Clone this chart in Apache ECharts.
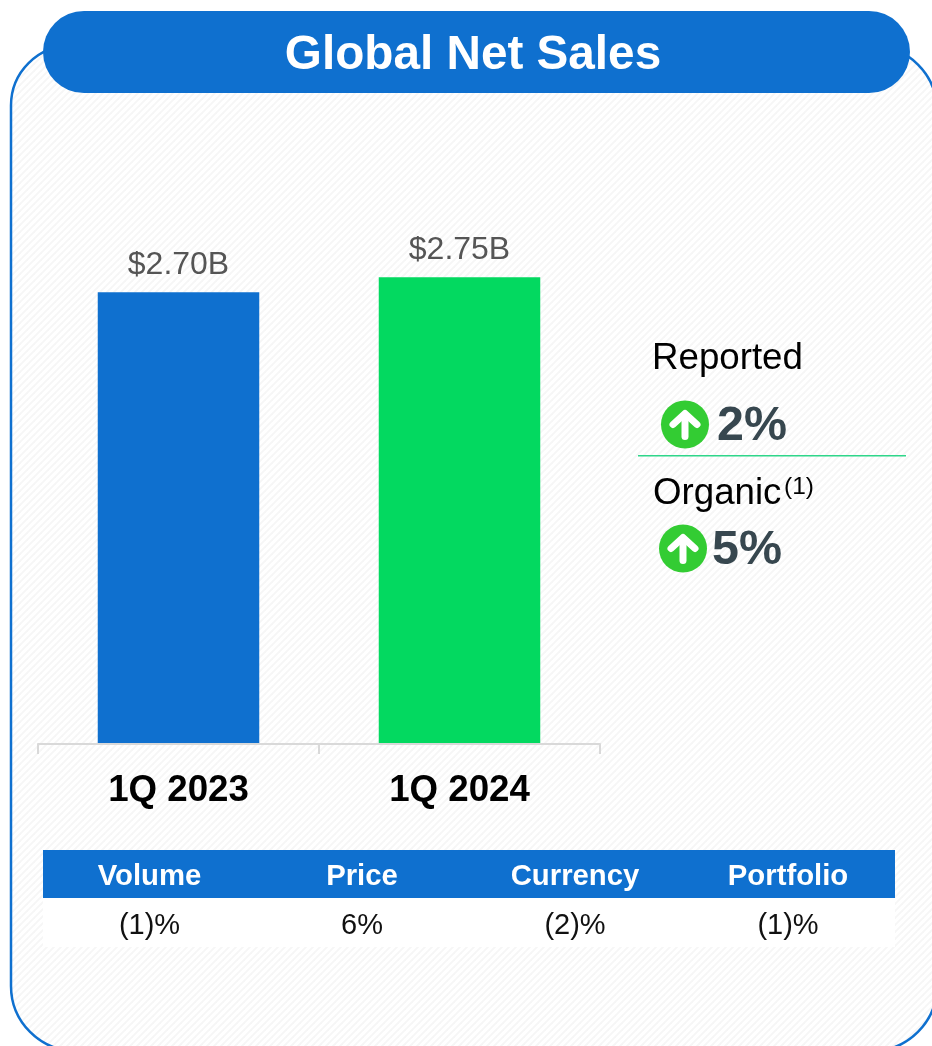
<!DOCTYPE html>
<html>
<head>
<meta charset="utf-8">
<style>html,body{margin:0;padding:0;background:#fff}#chart{width:932px;height:1046px}</style>
<script src="https://cdn.jsdelivr.net/npm/echarts@6/dist/echarts.min.js"></script>
</head>
<body>
<div id="chart"></div>
<script>
const quarters = ['1Q 2023', '1Q 2024'];
const netSales = [2.70, 2.75];
const barColors = ['#0F70CF', '#03D960'];
const bridgeHeaders = ['Volume', 'Price', 'Currency', 'Portfolio'];
const bridgeValues = ['(1)%', '6%', '(2)%', '(1)%'];
const reportedGrowth = '2%';
const organicGrowth = '5%';

const BLUE = '#0F70CF';
const FONT = '"Liberation Sans", Arial, sans-serif';

// Faint diagonal hatching used as the panel fill
function hatchTile() {
  const size = 7;
  const c = document.createElement('canvas');
  c.width = c.height = size;
  const g = c.getContext('2d');
  g.fillStyle = '#ffffff';
  g.fillRect(0, 0, size, size);
  g.strokeStyle = '#f6f6f6';
  g.lineWidth = 1.8;
  for (let k = -size; k <= size; k += size) {
    g.beginPath();
    g.moveTo(k - 1, size + 1);
    g.lineTo(k + size + 1, -1);
    g.stroke();
  }
  return c;
}

function txt(text, x, y, size, fill, weight, align) {
  return {
    type: 'text', z: 5, x, y,
    style: {
      text, fill, align: align || 'center', verticalAlign: 'middle',
      font: (weight || 'normal') + ' ' + size + 'px ' + FONT
    }
  };
}

function upIcon(cx, cy) {
  const s = { stroke: '#fff', lineWidth: 7, lineCap: 'round', lineJoin: 'round', fill: 'none' };
  return [
    { type: 'circle', z: 5, shape: { cx, cy, r: 24 }, style: { fill: '#33CC33' } },
    { type: 'polyline', z: 6, shape: { points: [[cx, cy + 12], [cx, cy - 10]] }, style: s },
    { type: 'polyline', z: 6, shape: { points: [[cx - 12, cy], [cx, cy - 11], [cx + 12, cy]] }, style: s }
  ];
}

const columnCentres = [149.5, 362, 575, 788];
const graphics = [
  { type: 'rect', z: 0, shape: { x: 11, y: 45.5, width: 926, height: 1005.5, r: [60, 65, 65, 65] },
    style: { fill: { image: hatchTile(), repeat: 'repeat' }, stroke: BLUE, lineWidth: 2.5 } },
  { type: 'rect', z: 4, shape: { x: 43, y: 11, width: 867, height: 82, r: 41 }, style: { fill: BLUE } },
  txt('Global Net Sales', 473, 56, 47.7, '#fff', 'bold'),
  txt('Reported', 652, 359, 36.7, '#000', 'normal', 'left'),
  ...upIcon(685, 424.5),
  txt(reportedGrowth, 717, 427, 48.4, '#37474F', 'bold', 'left'),
  { type: 'rect', z: 5, shape: { x: 638, y: 455, width: 268, height: 1.4 }, style: { fill: '#2FD68A' } },
  txt('Organic', 653, 494, 36.7, '#000', 'normal', 'left'),
  txt('(1)', 784, 487, 24.5, '#000', 'normal', 'left'),
  ...upIcon(683, 548.5),
  txt(organicGrowth, 712, 551, 48.4, '#37474F', 'bold', 'left'),
  { type: 'rect', z: 4, shape: { x: 43, y: 850, width: 852, height: 48 }, style: { fill: BLUE } },
  { type: 'rect', z: 4, shape: { x: 43, y: 898, width: 852, height: 49 }, style: { fill: '#fff' } }
];
bridgeHeaders.forEach((h, i) => graphics.push(txt(h, columnCentres[i], 877, 29.3, '#fff', 'bold')));
bridgeValues.forEach((v, i) => graphics.push(txt(v, columnCentres[i], 926, 29, '#111')));

const chart = echarts.init(document.getElementById('chart'), null, { renderer: 'canvas' });
chart.setOption({
  animation: false,
  backgroundColor: '#fff',
  graphic: graphics,
  grid: { left: 38, width: 562, top: 202, height: 541 },
  xAxis: {
    type: 'category',
    data: quarters,
    offset: 1,
    axisLine: { show: true, lineStyle: { color: '#D9D9D9', width: 2 } },
    axisTick: { show: true, length: 10, lineStyle: { color: '#D9D9D9', width: 2 } },
    axisLabel: { color: '#000', fontFamily: FONT, fontWeight: 'bold', fontSize: 36.7, margin: 28 }
  },
  yAxis: { type: 'value', min: 1.2, max: 3, show: false, splitLine: { show: false } },
  series: [{
    type: 'bar',
    barWidth: 161.5,
    data: netSales.map((v, i) => ({ value: v, itemStyle: { color: barColors[i] } })),
    label: {
      show: true, position: 'top', distance: 11,
      color: '#555555', fontFamily: FONT, fontSize: 32,
      formatter: p => '$' + p.value.toFixed(2) + 'B'
    }
  }]
});
</script>
</body>
</html>
